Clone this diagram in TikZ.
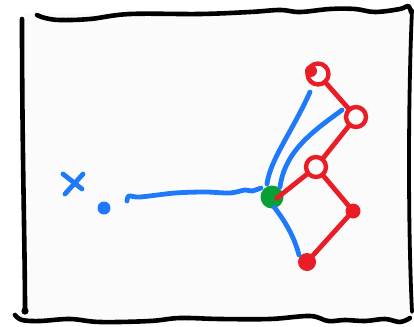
\documentclass[tikz,border=0pt]{standalone}
\definecolor{pblue}{RGB}{30,122,250}
\definecolor{pred}{RGB}{234,28,38}
\definecolor{pgreen}{RGB}{8,160,52}
\begin{document}
\begin{tikzpicture}[x=1pt,y=-1pt, line cap=round, line join=round,
  frame/.style={line width=4.6pt, black},
  bstroke/.style={pblue, line width=4.8pt},
  redge/.style={pred, line width=4.8pt},
  ring/.style={circle, draw=pred, line width=4.4pt, minimum size=20pt, inner sep=0pt},
  rblob/.style={circle, fill=pred, minimum size=15pt, inner sep=0pt},
  gblob/.style={circle, fill=pgreen, minimum size=23pt, inner sep=0pt},
]
\useasboundingbox (0,0) rectangle (414,326);
\fill[black!1.5] (23,13) rectangle (411,319);
% frame
\draw[frame] plot[smooth, tension=0.6] coordinates {(37,15) (45,18) (60,20) (90,19) (130,14) (200,14) (250,12) (280,10) (300,12) (330,9) (355,9) (375,12) (400,9) (408,6) (411,12)};
\draw[frame] (22,19) .. controls (22,150) and (25,250) .. (25,311);
\fill (25,311) circle (3.6);
\draw[frame] plot[smooth, tension=0.6] coordinates {(15,315) (22,320) (40,321) (70,319) (100,322) (150,321) (180,318) (220,319) (270,319) (310,316) (328,321) (345,320) (365,321) (385,319) (400,322) (410,318)};
\draw[frame, line width=3.8pt] (412,10) .. controls (408,100) and (408,230) .. (412,312);
% nodes
\node[gblob] (g) at (272,197) {};
\node[circle, fill=pred, minimum size=5pt, inner sep=0pt] (gd) at (277,198) {};
\node[ring, minimum size=21pt] (n1) at (318,74) {};
\node[circle, fill=pred, minimum size=12pt, inner sep=0pt] (n1b) at (311,71) {};
\node[ring] (n2) at (356,117) {};
\node[ring] (n3) at (316,167) {};
\node[rblob] (n4) at (353,211) {};
\node[rblob, minimum size=18pt] (n5) at (307,262) {};
% blue strokes
\coordinate (x1a) at (63,174); \coordinate (x1b) at (82,189);
\coordinate (x2a) at (83,174); \coordinate (x2b) at (65,194);
\draw[bstroke] (x1a) -- (x1b);
\draw[bstroke] (x2a) -- (x2b);
\node[circle, fill=pblue, minimum size=13pt, inner sep=0pt] (dot) at (104,208) {};
\coordinate (ls) at (127,201);
\draw[bstroke] plot[smooth, tension=0.5] coordinates {(ls) (129,196) (140,197) (175,193) (205,192) (230,193) (245,190) (252,191) (261,188)};
\coordinate (a1) at (310,92);
\coordinate (a2) at (342,110);
\coordinate (c1) at (299,255);
\draw[bstroke] (a1) .. controls (292,132) and (270,160) .. (267,184);
\draw[bstroke] (a2) .. controls (315,130) and (285,150) .. (280,187);
\draw[bstroke] (g.south east) ++(-6,2) .. controls (288,225) and (295,240) .. (c1);
% red edges
\draw[redge] (n1) -- (n2);
\draw[redge] (n2) -- (n3);
\draw[redge] (n3) -- (gd.center);
\draw[redge] (n3) -- (n4);
\draw[redge] (n4) -- (n5);
\end{tikzpicture}
\end{document}
